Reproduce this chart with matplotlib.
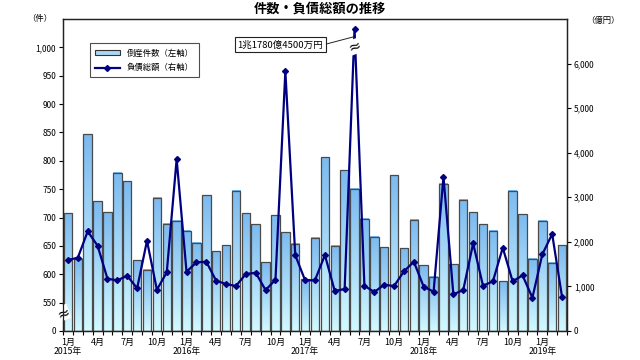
import numpy as np
import matplotlib
matplotlib.use('Agg')
import matplotlib.pyplot as plt
from matplotlib.colors import LinearSegmentedColormap
from matplotlib.patches import Rectangle
from matplotlib.lines import Line2D

plt.rcParams['font.family'] = ['Noto Sans CJK JP', 'DejaVu Sans']

# months Jan 2015 - Mar 2019
years = [2015, 2016, 2017, 2018, 2019]
months = [m for y in years for m in range(1, 13)][:51]

# 倒産件数 (左軸)
counts = [708, 627, 847, 729, 709, 779, 764, 625, 608, 735, 689, 694,
          677, 656, 739, 641, 651, 747, 708, 688, 621, 704, 674, 654,
          591, 664, 806, 650, 783, 751, 698, 666, 648, 775, 646, 696,
          616, 596, 760, 618, 731, 709, 688, 677, 588, 747, 706, 627,
          694, 620, 651]

# 負債総額 (右軸, 億円)
debt = [1592, 1644, 2235, 1913, 1173, 1136, 1241, 957, 2025, 926, 1316, 3856,
        1330, 1540, 1554, 1128, 1054, 1009, 1278, 1307, 919, 1150, 5829, 1704,
        1136, 1140, 1704, 897, 942, 11780, 1016, 874, 1039, 1009, 1338, 1554,
        994, 882, 3460, 822, 919, 1966, 1016, 1113, 1868, 1113, 1248, 747,
        1719, 2175, 763]

debt_cap = 6780  # peak is drawn with a break at the top
x = np.arange(len(counts))

fig = plt.figure(figsize=(6.4, 3.6), dpi=100)
ax = fig.add_axes([63/640, 29/360, 504/640, 312/360])
ax2 = ax.twinx()

# gradient bars
cmap = LinearSegmentedColormap.from_list('bar', ['#d2f9ff', '#7cbaf0'])
grad = np.linspace(0, 1, 64).reshape(-1, 1)
w = 0.86
for xi, c in zip(x, counts):
    ax.imshow(grad, extent=[xi - w/2, xi + w/2, 500, c], origin='lower',
              aspect='auto', cmap=cmap, zorder=2)
    ax.add_patch(Rectangle((xi - w/2, 500), w, c - 500, facecolor='none',
                           edgecolor='#4a4a4a', lw=0.9, zorder=3))

ax.set_xlim(-0.5, len(counts) - 0.5)
ax.set_ylim(500, 1050)
ax.set_yticks([500] + list(range(550, 1001, 50)))
ax.set_yticklabels(['0'] + [f'{v:,}' for v in range(550, 1001, 50)])
ax.tick_params(axis='y', labelsize=6, length=3, width=0.8, pad=2)

# x ticks
lab_pos = [i for i, m in enumerate(months) if m in (1, 4, 7, 10)]
ax.set_xticks(lab_pos)
ax.set_xticklabels([f'{months[i]}月' for i in lab_pos])
ax.set_xticks(np.arange(-0.5, len(counts), 1), minor=True)
ax.tick_params(axis='x', which='major', length=0, labelsize=6.5, pad=5)
ax.tick_params(axis='x', which='minor', length=3, width=0.8)
for i, m in enumerate(months):
    if m == 1:
        ax.text(i, -0.066, f'{years[i // 12]}年', transform=ax.get_xaxis_transform(),
                ha='center', va='center', fontsize=6.3)

# line
ax2.plot(x, np.minimum(debt, debt_cap), color='#000080', lw=1.6,
         marker='D', ms=3, zorder=4)
ax2.set_ylim(0, 7000)
ax2.set_yticks(range(0, 6001, 1000))
ax2.set_yticklabels([f'{v:,}' for v in range(0, 6001, 1000)])
ax2.tick_params(axis='y', labelsize=6, length=3, width=0.8, pad=2)

for a in (ax, ax2):
    for s in a.spines.values():
        s.set_linewidth(0.9)
        s.set_color('#222222')

# breaks
ax.text(0, 532, '≈', transform=ax.get_yaxis_transform(), ha='center', va='center',
        fontsize=11, rotation=20, family='DejaVu Sans',
        bbox=dict(facecolor='white', edgecolor='none', pad=0), zorder=6, clip_on=False)
peak = int(np.argmax(debt))
ax2.text(peak, 6380, '≈', ha='center', va='center', fontsize=11, rotation=20,
         family='DejaVu Sans', bbox=dict(facecolor='white', edgecolor='none', pad=0),
         zorder=6)

ax2.annotate('1兆1780億4500万円', xy=(peak - 0.1, 6600), xytext=(21.5, 6420),
             fontsize=6.8, ha='center', va='center',
             bbox=dict(boxstyle='square,pad=0.3', facecolor='white',
                       edgecolor='#222222', lw=0.8),
             arrowprops=dict(arrowstyle='-', lw=0.7, color='#222222',
                             shrinkA=0, shrinkB=0, relpos=(1, 0.5)), zorder=7)

handles = [Rectangle((0, 0), 1, 1, facecolor='#a9d8f7', edgecolor='#333333', lw=0.8),
           Line2D([], [], color='#000080', lw=1.6, marker='D', ms=3)]
leg = ax2.legend(handles, ['倒産件数（左軸）', '負債総額（右軸）'],
                 loc='upper left', bbox_to_anchor=(0.045, 0.935), fontsize=6,
                 frameon=True, fancybox=False, edgecolor='#222222',
                 handlelength=3, handleheight=0.5, borderpad=0.6, labelspacing=0.7)
leg.get_frame().set_linewidth(0.8)

fig.text(0.5, 0.975, '件数・負債総額の推移', ha='center', va='center',
         fontsize=9.5, fontweight='bold')
fig.text(40/640, 1 - 18/360, '（件）', ha='center', va='center', fontsize=6)
fig.text(603/640, 1 - 20/360, '（億円）', ha='center', va='center', fontsize=6)

fig.savefig('out.png', dpi=100)
